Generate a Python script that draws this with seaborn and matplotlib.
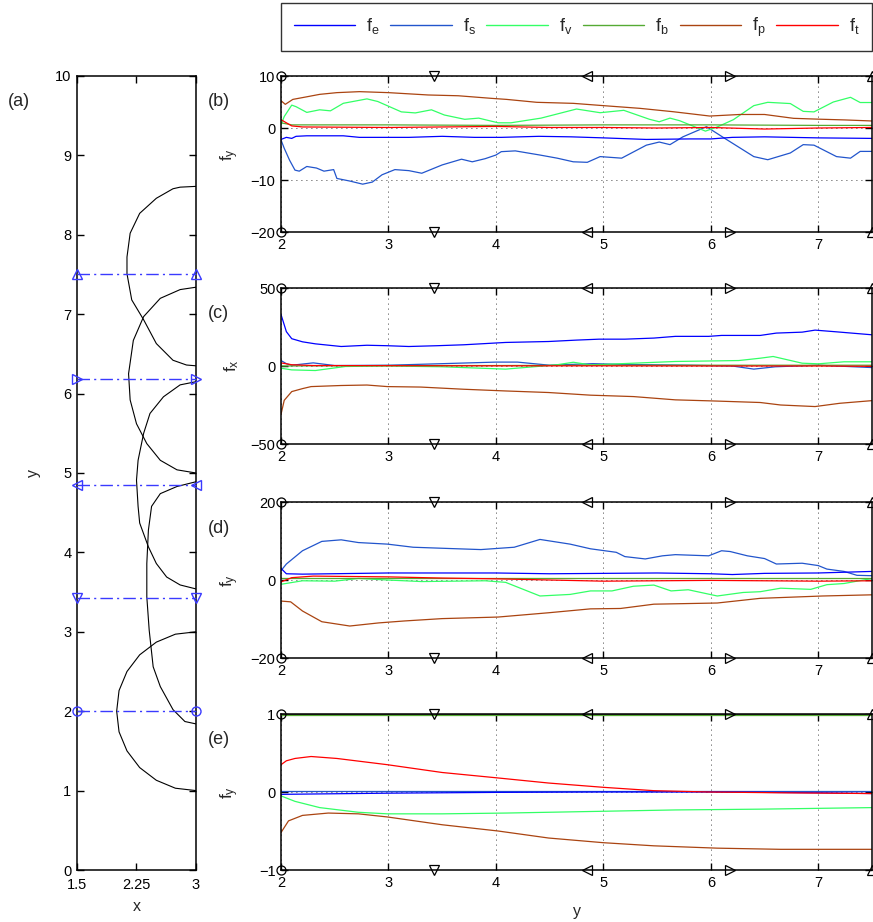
import numpy as np
import pandas as pd
import matplotlib
matplotlib.use("Agg")
import matplotlib.pyplot as plt
from matplotlib.lines import Line2D
import seaborn as sns

# ---- stations (panel a dash-dot lines, markers on b-e) ----
stations = [2.0, 3.42, 4.85, 6.18, 7.5]
station_markers = ['o', 'v', '<', '>', '^']

# ---- panel (a): trajectory arcs ----
arcA_x = [3.0, 2.80, 2.71, 2.50, 2.29, 2.17, 2.13, 2.13, 2.19, 2.34, 2.50, 2.71, 2.88, 3.0]
arcA_y = [8.61, 8.60, 8.58, 8.46, 8.27, 8.02, 7.72, 7.51, 7.18, 6.93, 6.63, 6.42, 6.36, 6.35]
arcB_x = [3.0, 2.80, 2.55, 2.34, 2.21, 2.15, 2.17, 2.25, 2.38, 2.55, 2.76, 3.0]
arcB_y = [7.34, 7.31, 7.20, 6.97, 6.67, 6.25, 5.92, 5.62, 5.37, 5.16, 5.04, 5.00]
arcC_x = [3.0, 2.80, 2.59, 2.42, 2.34, 2.27, 2.25, 2.27, 2.29, 2.40, 2.50, 2.63, 2.80, 3.0]
arcC_y = [6.15, 6.11, 5.96, 5.75, 5.50, 5.16, 4.91, 4.58, 4.37, 4.07, 3.86, 3.69, 3.59, 3.54]
arcD_x = [3.0, 2.76, 2.55, 2.44, 2.40, 2.38, 2.38, 2.41, 2.46, 2.55, 2.71, 2.86, 3.0]
arcD_y = [4.89, 4.83, 4.74, 4.58, 4.28, 3.86, 3.44, 3.02, 2.56, 2.31, 2.02, 1.87, 1.84]
arcE_x = [3.0, 2.74, 2.50, 2.29, 2.13, 2.03, 2.00, 2.03, 2.13, 2.29, 2.50, 2.74, 3.0]
arcE_y = [3.0, 2.97, 2.87, 2.71, 2.50, 2.26, 2.00, 1.74, 1.50, 1.29, 1.13, 1.03, 1.0]

# ---- panel (b): f_y ----
b_fe_x = [2.0, 2.05, 2.1, 2.14, 2.24, 2.58, 2.73, 3.19, 3.5, 3.8, 4.05, 4.4, 4.7, 5.0, 5.4, 5.8, 6.0, 6.2, 6.5, 7.0, 7.5]
b_fe_y = [-2.2, -1.8, -2.0, -1.6, -1.5, -1.5, -1.8, -1.8, -1.6, -1.8, -1.8, -1.6, -1.7, -1.9, -2.2, -2.1, -2.1, -1.8, -1.7, -1.9, -2.0]
b_fs_x = [2.0, 2.03, 2.08, 2.13, 2.17, 2.24, 2.33, 2.4, 2.49, 2.52, 2.64, 2.76, 2.85, 2.94, 3.06, 3.19,
          3.31, 3.5, 3.68, 3.78, 3.9, 4.0, 4.05, 4.18, 4.41, 4.57, 4.72, 4.85, 4.97, 5.17, 5.40, 5.52,
          5.62, 5.74, 5.96, 6.13, 6.40, 6.53, 6.74, 6.86, 6.96, 7.17, 7.30, 7.39, 7.5]
b_fs_y = [-2.3, -3.9, -6.2, -8.1, -8.3, -7.4, -7.7, -8.3, -8.0, -9.7, -10.2, -10.8, -10.4, -9.0, -8.0, -8.2,
          -8.7, -7.1, -6.0, -6.5, -5.9, -5.2, -4.55, -4.4, -5.2, -5.8, -6.5, -6.6, -5.5, -5.8, -3.3, -2.7,
          -3.2, -1.7, 0.25, -2.0, -5.5, -6.1, -4.8, -3.2, -3.3, -5.5, -5.8, -4.5, -4.5]
b_fv_x = [2.0, 2.03, 2.1, 2.14, 2.24, 2.36, 2.46, 2.58, 2.8, 2.9, 3.12, 3.25, 3.4, 3.52, 3.71, 3.84, 4.02,
          4.14, 4.42, 4.75, 4.97, 5.19, 5.43, 5.52, 5.62, 5.71, 5.95, 6.06, 6.21, 6.40, 6.53, 6.74, 6.86,
          6.96, 7.14, 7.30, 7.39, 7.5]
b_fv_y = [0.6, 2.2, 4.4, 4.1, 3.0, 3.5, 3.3, 4.75, 5.6, 5.1, 3.1, 2.9, 3.5, 2.5, 1.67, 1.9, 1.0,
          1.0, 1.9, 3.65, 2.94, 3.4, 1.67, 1.2, 1.9, 1.4, -0.6, 0.2, 1.6, 4.3, 4.94, 4.7, 3.2,
          3.1, 5.0, 5.9, 4.9, 4.9]
b_fb_x = [2.0, 2.1, 3.0, 4.0, 5.0, 6.0, 7.0, 7.5]
b_fb_y = [1.0, 0.6, 0.6, 0.5, 0.6, 0.6, 0.5, 0.5]
b_fp_x = [2.0, 2.04, 2.11, 2.24, 2.36, 2.52, 2.73, 3.0, 3.37, 3.65, 3.96, 4.1, 4.38, 4.72, 5.0, 5.34,
          5.65, 5.99, 6.27, 6.5, 6.77, 7.0, 7.25, 7.5]
b_fp_y = [5.25, 4.55, 5.5, 6.0, 6.47, 6.8, 6.99, 6.8, 6.35, 6.2, 5.7, 5.5, 4.94, 4.74, 4.3, 3.78,
          3.13, 2.3, 2.6, 2.6, 1.86, 1.7, 1.55, 1.35]
b_ft_x = [2.0, 2.05, 2.1, 2.2, 3.0, 4.0, 4.5, 5.0, 5.5, 6.0, 6.5, 7.0, 7.5]
b_ft_y = [1.6, 1.0, 0.4, 0.2, 0.1, 0.3, 0.1, 0.1, 0.0, 0.1, -0.2, 0.0, 0.1]

# ---- panel (c): f_x ----
c_fe_x = [2.0, 2.05, 2.1, 2.2, 2.32, 2.56, 2.8, 2.99, 3.19, 3.45, 3.7, 4.09, 4.49, 4.75, 4.96, 5.2,
          5.47, 5.67, 5.98, 6.1, 6.46, 6.61, 6.85, 6.97, 7.17, 7.5]
c_fe_y = [33, 22, 17.5, 15.5, 14.2, 12.5, 13.3, 13, 12.5, 13, 13.6, 15.1, 15.7, 16.6, 17.2, 17.2,
          17.9, 19, 19, 19.6, 19.6, 21.1, 21.7, 23, 21.9, 20]
c_fs_x = [2.0, 2.05, 2.1, 2.3, 2.5, 3.0, 3.5, 4.0, 4.2, 4.5, 4.9, 5.2, 5.8, 6.2, 6.4, 6.6, 7.0, 7.5]
c_fs_y = [3.5, 1.5, 0.5, 2.0, 0.3, 0.5, 1.5, 2.5, 2.5, 0.5, 1.5, 1.0, 0.5, 0.0, -2.0, -0.5, 0.5, -1.0]
c_fv_x = [2.0, 2.1, 2.32, 2.6, 3.0, 3.5, 4.09, 4.56, 4.72, 4.88, 5.28, 5.67, 6.26, 6.46, 6.58, 6.85,
          7.0, 7.24, 7.5]
c_fv_y = [-1.4, -2.5, -2.9, -0.3, 0.0, -0.5, -2.0, 0.7, 2.4, 0.7, 1.8, 2.9, 3.5, 5.0, 6.1, 1.8,
          1.4, 2.7, 2.7]
c_fb_x = [2.0, 3.0, 4.0, 5.0, 6.0, 7.0, 7.5]
c_fb_y = [0.0, 0.3, 0.3, 0.5, 0.5, 0.5, 0.5]
c_fp_x = [2.0, 2.03, 2.1, 2.2, 2.28, 2.56, 2.8, 2.99, 3.3, 3.7, 4.09, 4.49, 4.88, 5.28, 5.67, 6.02,
          6.46, 6.65, 6.97, 7.2, 7.5]
c_fp_y = [-31, -22, -16.4, -14.5, -13.2, -12.5, -12.2, -13.2, -13.5, -14.9, -16, -17, -18.7, -19.6,
          -21.7, -22.4, -23.4, -25, -26, -23.9, -22.2]
c_ft_x = [2.0, 2.1, 2.3, 3.0, 4.0, 5.0, 6.0, 7.0, 7.5]
c_ft_y = [2.0, 0.8, 0.3, 0.2, 0.1, 0.1, 0.0, 0.0, -0.2]

# ---- panel (d): f_y ----
d_fe_x = [2.0, 2.05, 2.2, 3.0, 4.0, 4.5, 5.0, 5.5, 6.0, 6.2, 6.5, 7.0, 7.5]
d_fe_y = [3.0, 1.6, 1.5, 1.8, 1.8, 1.6, 1.7, 1.8, 1.6, 1.4, 1.7, 1.8, 2.2]
d_fs_x = [2.0, 2.05, 2.2, 2.38, 2.56, 2.72, 2.99, 3.23, 3.54, 3.86, 4.17, 4.41, 4.69, 4.88, 5.12, 5.2,
          5.39, 5.55, 5.67, 5.98, 6.1, 6.18, 6.34, 6.5, 6.61, 6.85, 7.0, 7.08, 7.24, 7.36, 7.5]
d_fs_y = [2.4, 4.1, 7.5, 9.9, 10.3, 9.6, 9.2, 8.4, 8.1, 7.8, 8.4, 10.4, 9.2, 8.0, 7.1, 6.0,
          5.4, 6.2, 6.5, 6.2, 7.5, 7.3, 6.2, 5.5, 4.1, 4.3, 3.7, 2.8, 2.2, 1.2, 1.1]
d_fv_x = [2.0, 2.2, 2.5, 2.72, 2.99, 3.31, 3.9, 4.09, 4.41, 4.69, 4.88, 5.08, 5.28, 5.47, 5.63, 5.79,
          6.06, 6.3, 6.46, 6.65, 6.93, 7.08, 7.24, 7.5]
d_fv_y = [-1.1, -0.2, -0.3, 0.4, 0.0, -0.4, -0.2, -0.6, -4.1, -3.7, -2.8, -2.8, -1.6, -1.3, -2.8, -2.5,
          -4.1, -3.2, -3.0, -2.1, -2.4, -1.2, -0.9, 0.4]
d_fb_x = [2.0, 7.5]
d_fb_y = [0.5, 0.5]
d_fp_x = [2.0, 2.09, 2.2, 2.38, 2.64, 2.91, 3.15, 3.5, 4.02, 4.49, 4.88, 5.16, 5.47, 6.06, 6.46, 7.04, 7.5]
d_fp_y = [-5.4, -5.6, -7.95, -10.7, -11.8, -11, -10.5, -9.9, -9.5, -8.4, -7.4, -7.3, -6.2, -5.9, -4.7,
          -4.1, -3.8]
d_ft_x = [2.0, 2.1, 2.3, 3.0, 3.5, 4.0, 4.5, 5.0, 6.0, 7.0, 7.5]
d_ft_y = [-0.5, 0.6, 1.0, 0.8, 0.5, 0.3, 0.0, -0.3, -0.1, -0.3, -0.2]

# ---- panel (e): normalised f_y ----
e_fe_x = [2.0, 3.0, 4.0, 5.0, 6.0, 7.0, 7.5]
e_fe_y = [-0.03, -0.015, -0.005, 0.0, 0.0, -0.01, -0.02]
e_fs_x = [2.0, 7.5]
e_fs_y = [0.01, 0.01]
e_fv_x = [2.0, 2.13, 2.36, 2.72, 2.99, 3.5, 4.09, 4.88, 5.67, 6.46, 7.5]
e_fv_y = [-0.05, -0.12, -0.2, -0.26, -0.28, -0.28, -0.27, -0.25, -0.23, -0.22, -0.2]
e_fb_x = [2.0, 7.5]
e_fb_y = [0.985, 0.985]
e_fp_x = [2.0, 2.07, 2.2, 2.44, 2.72, 2.99, 3.5, 4.02, 4.49, 5.0, 5.47, 6.06, 6.65, 7.5]
e_fp_y = [-0.52, -0.37, -0.3, -0.27, -0.28, -0.32, -0.42, -0.5, -0.59, -0.65, -0.69, -0.72, -0.735, -0.735]
e_ft_x = [2.0, 2.05, 2.13, 2.28, 2.52, 2.99, 3.5, 4.02, 4.49, 5.0, 5.47, 5.98, 6.65, 7.5]
e_ft_y = [0.35, 0.4, 0.43, 0.455, 0.43, 0.35, 0.25, 0.18, 0.115, 0.06, 0.017, 0.0, -0.01, -0.02]
e_sum_x = [2.0, 7.5]
e_sum_y = [1.0, 1.0]

forces = ['f_s', 'f_e', 'f_v', 'f_b', 'f_p', 'f_t']
legend_order = ['f_e', 'f_s', 'f_v', 'f_b', 'f_p', 'f_t']
colors = {'f_e': '#0000ff', 'f_s': '#2255cc', 'f_v': '#33ff66',
          'f_b': '#55aa33', 'f_p': '#aa4411', 'f_t': '#ff0000'}

panels = [
    ('(b)', r'$f_y$', (-20, 10), [-20, -10, 0, 10],
     {'f_e': (b_fe_x, b_fe_y), 'f_s': (b_fs_x, b_fs_y), 'f_v': (b_fv_x, b_fv_y),
      'f_b': (b_fb_x, b_fb_y), 'f_p': (b_fp_x, b_fp_y), 'f_t': (b_ft_x, b_ft_y)}),
    ('(c)', r'$f_x$', (-50, 50), [-50, 0, 50],
     {'f_e': (c_fe_x, c_fe_y), 'f_s': (c_fs_x, c_fs_y), 'f_v': (c_fv_x, c_fv_y),
      'f_b': (c_fb_x, c_fb_y), 'f_p': (c_fp_x, c_fp_y), 'f_t': (c_ft_x, c_ft_y)}),
    ('(d)', r'$f_y$', (-20, 20), [-20, 0, 20],
     {'f_e': (d_fe_x, d_fe_y), 'f_s': (d_fs_x, d_fs_y), 'f_v': (d_fv_x, d_fv_y),
      'f_b': (d_fb_x, d_fb_y), 'f_p': (d_fp_x, d_fp_y), 'f_t': (d_ft_x, d_ft_y)}),
    ('(e)', r'$f_y$', (-1, 1), [-1, 0, 1],
     {'f_e': (e_fe_x, e_fe_y), 'f_s': (e_fs_x, e_fs_y), 'f_v': (e_fv_x, e_fv_y),
      'f_b': (e_fb_x, e_fb_y), 'f_p': (e_fp_x, e_fp_y), 'f_t': (e_ft_x, e_ft_y)}),
]

sns.set_theme(style='ticks', rc={'xtick.direction': 'in', 'ytick.direction': 'in'})
plt.rcParams['font.family'] = ['Liberation Sans', 'DejaVu Sans']
plt.rcParams['mathtext.fontset'] = 'custom'
plt.rcParams['mathtext.rm'] = 'Liberation Sans'
plt.rcParams['mathtext.it'] = 'Liberation Sans'
plt.rcParams['mathtext.default'] = 'regular'
plt.rcParams['axes.linewidth'] = 1.1
plt.rcParams['xtick.major.size'] = 5
plt.rcParams['ytick.major.size'] = 5
plt.rcParams['xtick.major.width'] = 1.0
plt.rcParams['ytick.major.width'] = 1.0

FS = 10.5
fig = plt.figure(figsize=(8.73, 9.22), dpi=100)
W, H = 873.0, 922.0


def box(l, t, r, b):
    return [l / W, 1 - b / H, (r - l) / W, (b - t) / H]


def matlab_ticks(ax):
    ax.tick_params(which='both', top=True, right=True, direction='in',
                   labelsize=FS, colors='black', pad=4)
    for s in ax.spines.values():
        s.set_color('black')


# ---- panel (a) ----
axa = fig.add_axes(box(77, 76, 196, 870))
arcs = pd.concat([
    pd.DataFrame({'x': ax_, 'y': ay_, 'arc': name})
    for name, ax_, ay_ in [('A', arcA_x, arcA_y), ('B', arcB_x, arcB_y), ('C', arcC_x, arcC_y),
                           ('D', arcD_x, arcD_y), ('E', arcE_x, arcE_y)]
])
sns.lineplot(data=arcs, x='x', y='y', units='arc', estimator=None, sort=False,
             color='black', lw=0.8, ax=axa, legend=False)
for s, m in zip(stations, station_markers):
    axa.plot([1.5, 3.0], [s, s], color='#3a3aff', lw=1.0, ls=(0, (9, 3, 1.5, 3)),
             marker=m, ms=6.5, mfc='none', mec='#3a3aff', mew=1.0, clip_on=False, zorder=4)
axa.set_xlim(1.5, 3.0)
axa.set_ylim(0, 10)
axa.set_xticks([1.5, 2.25, 3.0])
axa.set_xticklabels(['1.5', '2.25', '3'])
axa.set_yticks(range(0, 11))
matlab_ticks(axa)
axa.tick_params(axis='x', pad=6)
axa.set_xlabel('x', fontsize=FS + 1)
axa.set_ylabel('y', fontsize=FS + 1)
axa.xaxis.set_label_coords(0.5, -0.036)
axa.yaxis.set_label_coords(-0.30, 0.5)
fig.text(8 / W, 1 - 102 / H, '(a)', fontsize=13, ha='left', va='center')

# ---- panels (b)-(e) ----
tops = [76, 288, 502, 714]
for (tag, ylab, ylim, yticks, series), top in zip(panels, tops):
    ax = fig.add_axes(box(281, top, 872, top + 156))
    df = pd.concat([pd.DataFrame({'y': series[f][0], 'f': series[f][1], 'force': f}) for f in forces])
    if tag == '(e)':
        sns.lineplot(x=e_sum_x, y=e_sum_y, color='#444444', lw=2.0, ax=ax, zorder=1)
    sns.lineplot(data=df, x='y', y='f', hue='force', hue_order=forces, palette=colors,
                 estimator=None, sort=False, lw=0.9, ax=ax, legend=False)
    ax.set_xlim(2, 7.5)
    ax.set_ylim(*ylim)
    ax.set_xticks([2, 3, 4, 5, 6, 7])
    ax.set_yticks(yticks)
    ax.grid(True, color='black', lw=0.6, ls=(0, (1, 5)))
    ax.set_axisbelow(True)
    for s, m in zip(stations, station_markers):
        ax.plot([s, s], list(ylim), ls='none', marker=m, ms=6.5, mfc='none', mec='black',
                mew=0.9, clip_on=False, zorder=5)
    ax.set_ylabel(ylab, fontsize=FS + 2)
    ax.yaxis.set_label_coords(-0.068, 0.5)
    if tag == '(e)':
        ax.set_xlabel('y', fontsize=FS + 1)
        ax.xaxis.set_label_coords(0.5, -0.215)
    else:
        ax.set_xlabel('')
    matlab_ticks(ax)
    fig.text(208 / W, 1 - (top + 26) / H, tag, fontsize=13, ha='left', va='center')

# ---- legend ----
handles = [Line2D([0], [0], color=colors[f], lw=1.0) for f in legend_order]
labels = [r'$f_%s$' % f[-1] for f in legend_order]
leg = fig.legend(handles, labels, loc='upper left', bbox_to_anchor=box(281, 3, 872, 46),
                 mode='expand', ncol=6, frameon=True, fancybox=False, edgecolor='black',
                 handlelength=3.4, handletextpad=0.6, borderpad=0.7, borderaxespad=0.0,
                 fontsize=13)
leg.get_frame().set_linewidth(1.0)

fig.savefig('out.png', dpi=100)
